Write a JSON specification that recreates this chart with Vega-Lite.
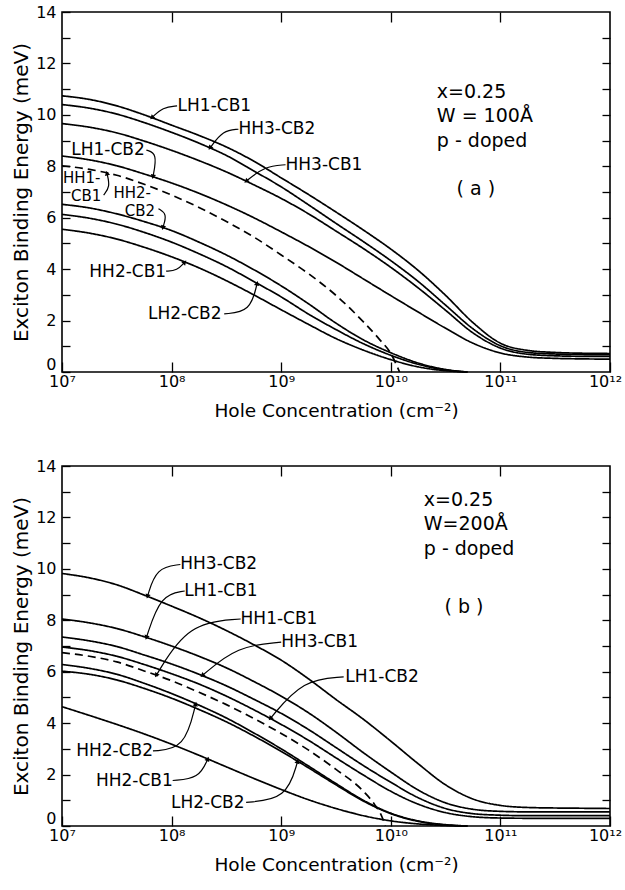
{
"$schema":"https://vega.github.io/schema/vega-lite/v6.json",
"padding":{"left":10,"top":3,"right":0,"bottom":0},
"config":{"view":{"stroke":"black","strokeWidth":1.6},"font":"DejaVu Sans","text":{"color":"black"},"axis":{"grid":false,"domain":false,"tickColor":"black","labelColor":"black","titleColor":"black","tickWidth":1.3,"labelFlush":false}},
"spacing":36,
"datasets":{
"curves":[
{"panel":"a","curve":"LH1-CB1","n":1e7,"e":10.74},{"panel":"a","curve":"LH1-CB1","n":1.778e7,"e":10.6},{"panel":"a","curve":"LH1-CB1","n":3.162e7,"e":10.35},{"panel":"a","curve":"LH1-CB1","n":5.623e7,"e":10.0},{"panel":"a","curve":"LH1-CB1","n":1e8,"e":9.6},{"panel":"a","curve":"LH1-CB1","n":1.778e8,"e":9.2},{"panel":"a","curve":"LH1-CB1","n":3.162e8,"e":8.75},{"panel":"a","curve":"LH1-CB1","n":5.623e8,"e":8.2},{"panel":"a","curve":"LH1-CB1","n":1e9,"e":7.55},{"panel":"a","curve":"LH1-CB1","n":1.778e9,"e":6.9},{"panel":"a","curve":"LH1-CB1","n":3.162e9,"e":6.22},{"panel":"a","curve":"LH1-CB1","n":5.623e9,"e":5.52},{"panel":"a","curve":"LH1-CB1","n":1e10,"e":4.78},{"panel":"a","curve":"LH1-CB1","n":1.778e10,"e":3.95},{"panel":"a","curve":"LH1-CB1","n":3.162e10,"e":2.98},{"panel":"a","curve":"LH1-CB1","n":5.623e10,"e":1.92},{"panel":"a","curve":"LH1-CB1","n":1e11,"e":1.12},{"panel":"a","curve":"LH1-CB1","n":1.778e11,"e":0.84},{"panel":"a","curve":"LH1-CB1","n":3.162e11,"e":0.76},{"panel":"a","curve":"LH1-CB1","n":5.623e11,"e":0.73},{"panel":"a","curve":"LH1-CB1","n":1e12,"e":0.72},
{"panel":"a","curve":"HH3-CB2","n":1e7,"e":10.4},{"panel":"a","curve":"HH3-CB2","n":1.778e7,"e":10.26},{"panel":"a","curve":"HH3-CB2","n":3.162e7,"e":10.03},{"panel":"a","curve":"HH3-CB2","n":5.623e7,"e":9.7},{"panel":"a","curve":"HH3-CB2","n":1e8,"e":9.32},{"panel":"a","curve":"HH3-CB2","n":1.778e8,"e":8.9},{"panel":"a","curve":"HH3-CB2","n":3.162e8,"e":8.42},{"panel":"a","curve":"HH3-CB2","n":5.623e8,"e":7.82},{"panel":"a","curve":"HH3-CB2","n":1e9,"e":7.2},{"panel":"a","curve":"HH3-CB2","n":1.778e9,"e":6.5},{"panel":"a","curve":"HH3-CB2","n":3.162e9,"e":5.78},{"panel":"a","curve":"HH3-CB2","n":5.623e9,"e":5.07},{"panel":"a","curve":"HH3-CB2","n":1e10,"e":4.33},{"panel":"a","curve":"HH3-CB2","n":1.778e10,"e":3.52},{"panel":"a","curve":"HH3-CB2","n":3.162e10,"e":2.6},{"panel":"a","curve":"HH3-CB2","n":5.623e10,"e":1.68},{"panel":"a","curve":"HH3-CB2","n":1e11,"e":1.02},{"panel":"a","curve":"HH3-CB2","n":1.778e11,"e":0.76},{"panel":"a","curve":"HH3-CB2","n":3.162e11,"e":0.7},{"panel":"a","curve":"HH3-CB2","n":5.623e11,"e":0.68},{"panel":"a","curve":"HH3-CB2","n":1e12,"e":0.67},
{"panel":"a","curve":"HH3-CB1","n":1e7,"e":9.66},{"panel":"a","curve":"HH3-CB1","n":1.778e7,"e":9.52},{"panel":"a","curve":"HH3-CB1","n":3.162e7,"e":9.3},{"panel":"a","curve":"HH3-CB1","n":5.623e7,"e":8.98},{"panel":"a","curve":"HH3-CB1","n":1e8,"e":8.62},{"panel":"a","curve":"HH3-CB1","n":1.778e8,"e":8.22},{"panel":"a","curve":"HH3-CB1","n":3.162e8,"e":7.78},{"panel":"a","curve":"HH3-CB1","n":5.623e8,"e":7.28},{"panel":"a","curve":"HH3-CB1","n":1e9,"e":6.75},{"panel":"a","curve":"HH3-CB1","n":1.778e9,"e":6.15},{"panel":"a","curve":"HH3-CB1","n":3.162e9,"e":5.48},{"panel":"a","curve":"HH3-CB1","n":5.623e9,"e":4.8},{"panel":"a","curve":"HH3-CB1","n":1e10,"e":4.07},{"panel":"a","curve":"HH3-CB1","n":1.778e10,"e":3.27},{"panel":"a","curve":"HH3-CB1","n":3.162e10,"e":2.4},{"panel":"a","curve":"HH3-CB1","n":5.623e10,"e":1.52},{"panel":"a","curve":"HH3-CB1","n":1e11,"e":0.93},{"panel":"a","curve":"HH3-CB1","n":1.778e11,"e":0.69},{"panel":"a","curve":"HH3-CB1","n":3.162e11,"e":0.63},{"panel":"a","curve":"HH3-CB1","n":5.623e11,"e":0.61},{"panel":"a","curve":"HH3-CB1","n":1e12,"e":0.61},
{"panel":"a","curve":"LH1-CB2","n":1e7,"e":8.4},{"panel":"a","curve":"LH1-CB2","n":1.778e7,"e":8.25},{"panel":"a","curve":"LH1-CB2","n":3.162e7,"e":8.02},{"panel":"a","curve":"LH1-CB2","n":5.623e7,"e":7.7},{"panel":"a","curve":"LH1-CB2","n":1e8,"e":7.35},{"panel":"a","curve":"LH1-CB2","n":1.778e8,"e":6.95},{"panel":"a","curve":"LH1-CB2","n":3.162e8,"e":6.5},{"panel":"a","curve":"LH1-CB2","n":5.623e8,"e":6.0},{"panel":"a","curve":"LH1-CB2","n":1e9,"e":5.45},{"panel":"a","curve":"LH1-CB2","n":1.778e9,"e":4.88},{"panel":"a","curve":"LH1-CB2","n":3.162e9,"e":4.27},{"panel":"a","curve":"LH1-CB2","n":5.623e9,"e":3.62},{"panel":"a","curve":"LH1-CB2","n":1e10,"e":2.97},{"panel":"a","curve":"LH1-CB2","n":1.778e10,"e":2.33},{"panel":"a","curve":"LH1-CB2","n":3.162e10,"e":1.7},{"panel":"a","curve":"LH1-CB2","n":5.623e10,"e":1.12},{"panel":"a","curve":"LH1-CB2","n":1e11,"e":0.74},{"panel":"a","curve":"LH1-CB2","n":1.778e11,"e":0.58},{"panel":"a","curve":"LH1-CB2","n":3.162e11,"e":0.53},{"panel":"a","curve":"LH1-CB2","n":5.623e11,"e":0.51},{"panel":"a","curve":"LH1-CB2","n":1e12,"e":0.5},
{"panel":"a","curve":"HH1-CB1","n":1e7,"e":8.02},{"panel":"a","curve":"HH1-CB1","n":1.778e7,"e":7.88},{"panel":"a","curve":"HH1-CB1","n":3.162e7,"e":7.65},{"panel":"a","curve":"HH1-CB1","n":5.623e7,"e":7.3},{"panel":"a","curve":"HH1-CB1","n":1e8,"e":6.88},{"panel":"a","curve":"HH1-CB1","n":1.778e8,"e":6.4},{"panel":"a","curve":"HH1-CB1","n":3.162e8,"e":5.85},{"panel":"a","curve":"HH1-CB1","n":5.623e8,"e":5.25},{"panel":"a","curve":"HH1-CB1","n":1e9,"e":4.55},{"panel":"a","curve":"HH1-CB1","n":1.778e9,"e":3.82},{"panel":"a","curve":"HH1-CB1","n":3.162e9,"e":2.98},{"panel":"a","curve":"HH1-CB1","n":5.623e9,"e":1.95},{"panel":"a","curve":"HH1-CB1","n":7.943e9,"e":1.25},{"panel":"a","curve":"HH1-CB1","n":1e10,"e":0.72},{"panel":"a","curve":"HH1-CB1","n":1.202e10,"e":0},
{"panel":"a","curve":"HH2-CB2","n":1e7,"e":6.52},{"panel":"a","curve":"HH2-CB2","n":1.778e7,"e":6.38},{"panel":"a","curve":"HH2-CB2","n":3.162e7,"e":6.15},{"panel":"a","curve":"HH2-CB2","n":5.623e7,"e":5.85},{"panel":"a","curve":"HH2-CB2","n":1e8,"e":5.5},{"panel":"a","curve":"HH2-CB2","n":1.778e8,"e":5.05},{"panel":"a","curve":"HH2-CB2","n":3.162e8,"e":4.55},{"panel":"a","curve":"HH2-CB2","n":5.623e8,"e":3.98},{"panel":"a","curve":"HH2-CB2","n":1e9,"e":3.35},{"panel":"a","curve":"HH2-CB2","n":1.778e9,"e":2.65},{"panel":"a","curve":"HH2-CB2","n":3.162e9,"e":1.9},{"panel":"a","curve":"HH2-CB2","n":5.623e9,"e":1.25},{"panel":"a","curve":"HH2-CB2","n":1e10,"e":0.75},{"panel":"a","curve":"HH2-CB2","n":1.778e10,"e":0.35},{"panel":"a","curve":"HH2-CB2","n":3.162e10,"e":0.1},{"panel":"a","curve":"HH2-CB2","n":3.981e10,"e":0.04},{"panel":"a","curve":"HH2-CB2","n":5.012e10,"e":0},
{"panel":"a","curve":"LH2-CB2","n":1e7,"e":6.13},{"panel":"a","curve":"LH2-CB2","n":1.778e7,"e":5.98},{"panel":"a","curve":"LH2-CB2","n":3.162e7,"e":5.75},{"panel":"a","curve":"LH2-CB2","n":5.623e7,"e":5.43},{"panel":"a","curve":"LH2-CB2","n":1e8,"e":5.05},{"panel":"a","curve":"LH2-CB2","n":1.778e8,"e":4.6},{"panel":"a","curve":"LH2-CB2","n":3.162e8,"e":4.1},{"panel":"a","curve":"LH2-CB2","n":5.623e8,"e":3.52},{"panel":"a","curve":"LH2-CB2","n":1e9,"e":2.92},{"panel":"a","curve":"LH2-CB2","n":1.778e9,"e":2.25},{"panel":"a","curve":"LH2-CB2","n":3.162e9,"e":1.65},{"panel":"a","curve":"LH2-CB2","n":5.623e9,"e":1.1},{"panel":"a","curve":"LH2-CB2","n":1e10,"e":0.65},{"panel":"a","curve":"LH2-CB2","n":1.778e10,"e":0.3},{"panel":"a","curve":"LH2-CB2","n":3.162e10,"e":0.08},{"panel":"a","curve":"LH2-CB2","n":3.981e10,"e":0.03},{"panel":"a","curve":"LH2-CB2","n":5.012e10,"e":0},
{"panel":"a","curve":"HH2-CB1","n":1e7,"e":5.55},{"panel":"a","curve":"HH2-CB1","n":1.778e7,"e":5.4},{"panel":"a","curve":"HH2-CB1","n":3.162e7,"e":5.17},{"panel":"a","curve":"HH2-CB1","n":5.623e7,"e":4.85},{"panel":"a","curve":"HH2-CB1","n":1e8,"e":4.48},{"panel":"a","curve":"HH2-CB1","n":1.778e8,"e":4.05},{"panel":"a","curve":"HH2-CB1","n":3.162e8,"e":3.55},{"panel":"a","curve":"HH2-CB1","n":5.623e8,"e":3.0},{"panel":"a","curve":"HH2-CB1","n":1e9,"e":2.42},{"panel":"a","curve":"HH2-CB1","n":1.778e9,"e":1.85},{"panel":"a","curve":"HH2-CB1","n":3.162e9,"e":1.3},{"panel":"a","curve":"HH2-CB1","n":5.623e9,"e":0.85},{"panel":"a","curve":"HH2-CB1","n":1e10,"e":0.48},{"panel":"a","curve":"HH2-CB1","n":1.778e10,"e":0.2},{"panel":"a","curve":"HH2-CB1","n":3.162e10,"e":0.05},{"panel":"a","curve":"HH2-CB1","n":3.981e10,"e":0.02},{"panel":"a","curve":"HH2-CB1","n":5.012e10,"e":0},
{"panel":"b","curve":"HH3-CB2","n":1e7,"e":9.82},{"panel":"b","curve":"HH3-CB2","n":1.778e7,"e":9.65},{"panel":"b","curve":"HH3-CB2","n":3.162e7,"e":9.38},{"panel":"b","curve":"HH3-CB2","n":5.623e7,"e":8.98},{"panel":"b","curve":"HH3-CB2","n":1e8,"e":8.55},{"panel":"b","curve":"HH3-CB2","n":1.778e8,"e":8.1},{"panel":"b","curve":"HH3-CB2","n":3.162e8,"e":7.6},{"panel":"b","curve":"HH3-CB2","n":5.623e8,"e":7.05},{"panel":"b","curve":"HH3-CB2","n":1e9,"e":6.45},{"panel":"b","curve":"HH3-CB2","n":1.778e9,"e":5.72},{"panel":"b","curve":"HH3-CB2","n":3.162e9,"e":4.92},{"panel":"b","curve":"HH3-CB2","n":5.623e9,"e":4.15},{"panel":"b","curve":"HH3-CB2","n":1e10,"e":3.3},{"panel":"b","curve":"HH3-CB2","n":1.778e10,"e":2.42},{"panel":"b","curve":"HH3-CB2","n":3.162e10,"e":1.6},{"panel":"b","curve":"HH3-CB2","n":5.623e10,"e":1.05},{"panel":"b","curve":"HH3-CB2","n":1e11,"e":0.8},{"panel":"b","curve":"HH3-CB2","n":1.778e11,"e":0.72},{"panel":"b","curve":"HH3-CB2","n":3.162e11,"e":0.7},{"panel":"b","curve":"HH3-CB2","n":5.623e11,"e":0.69},{"panel":"b","curve":"HH3-CB2","n":1e12,"e":0.68},
{"panel":"b","curve":"LH1-CB1","n":1e7,"e":8.05},{"panel":"b","curve":"LH1-CB1","n":1.778e7,"e":7.9},{"panel":"b","curve":"LH1-CB1","n":3.162e7,"e":7.68},{"panel":"b","curve":"LH1-CB1","n":5.623e7,"e":7.36},{"panel":"b","curve":"LH1-CB1","n":1e8,"e":7.0},{"panel":"b","curve":"LH1-CB1","n":1.778e8,"e":6.6},{"panel":"b","curve":"LH1-CB1","n":3.162e8,"e":6.15},{"panel":"b","curve":"LH1-CB1","n":5.623e8,"e":5.62},{"panel":"b","curve":"LH1-CB1","n":1e9,"e":5.05},{"panel":"b","curve":"LH1-CB1","n":1.778e9,"e":4.4},{"panel":"b","curve":"LH1-CB1","n":3.162e9,"e":3.65},{"panel":"b","curve":"LH1-CB1","n":5.623e9,"e":2.85},{"panel":"b","curve":"LH1-CB1","n":1e10,"e":2.1},{"panel":"b","curve":"LH1-CB1","n":1.778e10,"e":1.4},{"panel":"b","curve":"LH1-CB1","n":3.162e10,"e":0.9},{"panel":"b","curve":"LH1-CB1","n":5.623e10,"e":0.65},{"panel":"b","curve":"LH1-CB1","n":1e11,"e":0.57},{"panel":"b","curve":"LH1-CB1","n":1.778e11,"e":0.55},{"panel":"b","curve":"LH1-CB1","n":3.162e11,"e":0.55},{"panel":"b","curve":"LH1-CB1","n":5.623e11,"e":0.55},{"panel":"b","curve":"LH1-CB1","n":1e12,"e":0.55},
{"panel":"b","curve":"HH3-CB1","n":1e7,"e":7.35},{"panel":"b","curve":"HH3-CB1","n":1.778e7,"e":7.2},{"panel":"b","curve":"HH3-CB1","n":3.162e7,"e":6.98},{"panel":"b","curve":"HH3-CB1","n":5.623e7,"e":6.65},{"panel":"b","curve":"HH3-CB1","n":1e8,"e":6.3},{"panel":"b","curve":"HH3-CB1","n":1.778e8,"e":5.9},{"panel":"b","curve":"HH3-CB1","n":3.162e8,"e":5.45},{"panel":"b","curve":"HH3-CB1","n":5.623e8,"e":4.93},{"panel":"b","curve":"HH3-CB1","n":1e9,"e":4.38},{"panel":"b","curve":"HH3-CB1","n":1.778e9,"e":3.75},{"panel":"b","curve":"HH3-CB1","n":3.162e9,"e":3.05},{"panel":"b","curve":"HH3-CB1","n":5.623e9,"e":2.35},{"panel":"b","curve":"HH3-CB1","n":1e10,"e":1.7},{"panel":"b","curve":"HH3-CB1","n":1.778e10,"e":1.1},{"panel":"b","curve":"HH3-CB1","n":3.162e10,"e":0.68},{"panel":"b","curve":"HH3-CB1","n":5.623e10,"e":0.48},{"panel":"b","curve":"HH3-CB1","n":1e11,"e":0.42},{"panel":"b","curve":"HH3-CB1","n":1.778e11,"e":0.4},{"panel":"b","curve":"HH3-CB1","n":3.162e11,"e":0.4},{"panel":"b","curve":"HH3-CB1","n":5.623e11,"e":0.4},{"panel":"b","curve":"HH3-CB1","n":1e12,"e":0.4},
{"panel":"b","curve":"LH1-CB2","n":1e7,"e":6.96},{"panel":"b","curve":"LH1-CB2","n":1.778e7,"e":6.82},{"panel":"b","curve":"LH1-CB2","n":3.162e7,"e":6.6},{"panel":"b","curve":"LH1-CB2","n":5.623e7,"e":6.28},{"panel":"b","curve":"LH1-CB2","n":1e8,"e":5.92},{"panel":"b","curve":"LH1-CB2","n":1.778e8,"e":5.52},{"panel":"b","curve":"LH1-CB2","n":3.162e8,"e":5.05},{"panel":"b","curve":"LH1-CB2","n":5.623e8,"e":4.52},{"panel":"b","curve":"LH1-CB2","n":1e9,"e":3.95},{"panel":"b","curve":"LH1-CB2","n":1.778e9,"e":3.33},{"panel":"b","curve":"LH1-CB2","n":3.162e9,"e":2.65},{"panel":"b","curve":"LH1-CB2","n":5.623e9,"e":1.98},{"panel":"b","curve":"LH1-CB2","n":1e10,"e":1.35},{"panel":"b","curve":"LH1-CB2","n":1.778e10,"e":0.85},{"panel":"b","curve":"LH1-CB2","n":3.162e10,"e":0.52},{"panel":"b","curve":"LH1-CB2","n":5.623e10,"e":0.36},{"panel":"b","curve":"LH1-CB2","n":1e11,"e":0.31},{"panel":"b","curve":"LH1-CB2","n":1.778e11,"e":0.3},{"panel":"b","curve":"LH1-CB2","n":3.162e11,"e":0.3},{"panel":"b","curve":"LH1-CB2","n":5.623e11,"e":0.3},{"panel":"b","curve":"LH1-CB2","n":1e12,"e":0.3},
{"panel":"b","curve":"HH1-CB1","n":1e7,"e":6.74},{"panel":"b","curve":"HH1-CB1","n":1.778e7,"e":6.6},{"panel":"b","curve":"HH1-CB1","n":3.162e7,"e":6.38},{"panel":"b","curve":"HH1-CB1","n":5.623e7,"e":6.03},{"panel":"b","curve":"HH1-CB1","n":1e8,"e":5.65},{"panel":"b","curve":"HH1-CB1","n":1.778e8,"e":5.2},{"panel":"b","curve":"HH1-CB1","n":3.162e8,"e":4.72},{"panel":"b","curve":"HH1-CB1","n":5.623e8,"e":4.18},{"panel":"b","curve":"HH1-CB1","n":1e9,"e":3.6},{"panel":"b","curve":"HH1-CB1","n":1.778e9,"e":2.95},{"panel":"b","curve":"HH1-CB1","n":3.162e9,"e":2.2},{"panel":"b","curve":"HH1-CB1","n":5.623e9,"e":1.35},{"panel":"b","curve":"HH1-CB1","n":7.079e9,"e":0.85},{"panel":"b","curve":"HH1-CB1","n":8.318e9,"e":0.35},{"panel":"b","curve":"HH1-CB1","n":8.913e9,"e":0},
{"panel":"b","curve":"HH2-CB2","n":1e7,"e":6.28},{"panel":"b","curve":"HH2-CB2","n":1.778e7,"e":6.13},{"panel":"b","curve":"HH2-CB2","n":3.162e7,"e":5.9},{"panel":"b","curve":"HH2-CB2","n":5.623e7,"e":5.55},{"panel":"b","curve":"HH2-CB2","n":1e8,"e":5.15},{"panel":"b","curve":"HH2-CB2","n":1.778e8,"e":4.7},{"panel":"b","curve":"HH2-CB2","n":3.162e8,"e":4.2},{"panel":"b","curve":"HH2-CB2","n":5.623e8,"e":3.62},{"panel":"b","curve":"HH2-CB2","n":1e9,"e":3.0},{"panel":"b","curve":"HH2-CB2","n":1.778e9,"e":2.33},{"panel":"b","curve":"HH2-CB2","n":3.162e9,"e":1.65},{"panel":"b","curve":"HH2-CB2","n":5.623e9,"e":1.0},{"panel":"b","curve":"HH2-CB2","n":1e10,"e":0.5},{"panel":"b","curve":"HH2-CB2","n":1.778e10,"e":0.2},{"panel":"b","curve":"HH2-CB2","n":3.162e10,"e":0.05},{"panel":"b","curve":"HH2-CB2","n":5.012e10,"e":0},
{"panel":"b","curve":"LH2-CB2","n":1e7,"e":6.02},{"panel":"b","curve":"LH2-CB2","n":1.778e7,"e":5.9},{"panel":"b","curve":"LH2-CB2","n":3.162e7,"e":5.68},{"panel":"b","curve":"LH2-CB2","n":5.623e7,"e":5.35},{"panel":"b","curve":"LH2-CB2","n":1e8,"e":4.97},{"panel":"b","curve":"LH2-CB2","n":1.778e8,"e":4.53},{"panel":"b","curve":"LH2-CB2","n":3.162e8,"e":4.05},{"panel":"b","curve":"LH2-CB2","n":5.623e8,"e":3.5},{"panel":"b","curve":"LH2-CB2","n":1e9,"e":2.9},{"panel":"b","curve":"LH2-CB2","n":1.778e9,"e":2.26},{"panel":"b","curve":"LH2-CB2","n":3.162e9,"e":1.6},{"panel":"b","curve":"LH2-CB2","n":5.623e9,"e":0.97},{"panel":"b","curve":"LH2-CB2","n":1e10,"e":0.48},{"panel":"b","curve":"LH2-CB2","n":1.778e10,"e":0.18},{"panel":"b","curve":"LH2-CB2","n":3.162e10,"e":0.04},{"panel":"b","curve":"LH2-CB2","n":5.012e10,"e":0},
{"panel":"b","curve":"HH2-CB1","n":1e7,"e":4.64},{"panel":"b","curve":"HH2-CB1","n":1.778e7,"e":4.3},{"panel":"b","curve":"HH2-CB1","n":3.162e7,"e":3.95},{"panel":"b","curve":"HH2-CB1","n":5.623e7,"e":3.58},{"panel":"b","curve":"HH2-CB1","n":1e8,"e":3.18},{"panel":"b","curve":"HH2-CB1","n":1.778e8,"e":2.75},{"panel":"b","curve":"HH2-CB1","n":3.162e8,"e":2.3},{"panel":"b","curve":"HH2-CB1","n":5.623e8,"e":1.85},{"panel":"b","curve":"HH2-CB1","n":1e9,"e":1.42},{"panel":"b","curve":"HH2-CB1","n":1.778e9,"e":1.02},{"panel":"b","curve":"HH2-CB1","n":3.162e9,"e":0.68},{"panel":"b","curve":"HH2-CB1","n":5.623e9,"e":0.4},{"panel":"b","curve":"HH2-CB1","n":1e10,"e":0.2},{"panel":"b","curve":"HH2-CB1","n":1.778e10,"e":0.08},{"panel":"b","curve":"HH2-CB1","n":3.162e10,"e":0.02},{"panel":"b","curve":"HH2-CB1","n":5.012e10,"e":0}
],
"leaders":[
{"panel":"a","curve":"LH1-CB1","k":0,"n":1.122e8,"e":10.35},{"panel":"a","curve":"LH1-CB1","k":1,"n":8.318e7,"e":10.3},{"panel":"a","curve":"LH1-CB1","k":2,"n":6.607e7,"e":9.89},
{"panel":"a","curve":"HH3-CB2","k":0,"n":4.07e8,"e":9.44},{"panel":"a","curve":"HH3-CB2","k":1,"n":2.951e8,"e":9.4},{"panel":"a","curve":"HH3-CB2","k":2,"n":2.239e8,"e":8.71},
{"panel":"a","curve":"HH3-CB1","k":0,"n":1.096e9,"e":8.06},{"panel":"a","curve":"HH3-CB1","k":1,"n":7.079e8,"e":8.0},{"panel":"a","curve":"HH3-CB1","k":2,"n":4.786e8,"e":7.42},
{"panel":"a","curve":"LH1-CB2","k":0,"n":5.888e7,"e":8.63},{"panel":"a","curve":"LH1-CB2","k":1,"n":7.413e7,"e":8.5},{"panel":"a","curve":"LH1-CB2","k":2,"n":6.761e7,"e":7.59},
{"panel":"a","curve":"HH1-CB1","k":0,"n":2.399e7,"e":6.88},{"panel":"a","curve":"HH1-CB1","k":1,"n":2.754e7,"e":7.2},{"panel":"a","curve":"HH1-CB1","k":2,"n":2.57e7,"e":7.73},
{"panel":"a","curve":"HH2-CB2","k":0,"n":7.586e7,"e":6.35},{"panel":"a","curve":"HH2-CB2","k":1,"n":9.12e7,"e":6.15},{"panel":"a","curve":"HH2-CB2","k":2,"n":8.318e7,"e":5.61},
{"panel":"a","curve":"HH2-CB1","k":0,"n":8.913e7,"e":3.92},{"panel":"a","curve":"HH2-CB1","k":1,"n":1.122e8,"e":3.95},{"panel":"a","curve":"HH2-CB1","k":2,"n":1.318e8,"e":4.27},
{"panel":"a","curve":"LH2-CB2","k":0,"n":3.02e8,"e":2.26},{"panel":"a","curve":"LH2-CB2","k":1,"n":5.248e8,"e":2.35},{"panel":"a","curve":"LH2-CB2","k":2,"n":6.026e8,"e":3.45},
{"panel":"b","curve":"HH3-CB2","k":0,"n":1.202e8,"e":10.17},{"panel":"b","curve":"HH3-CB2","k":1,"n":7.244e7,"e":10.05},{"panel":"b","curve":"HH3-CB2","k":2,"n":6.026e7,"e":8.93},
{"panel":"b","curve":"LH1-CB1","k":0,"n":1.318e8,"e":9.14},{"panel":"b","curve":"LH1-CB1","k":1,"n":7.943e7,"e":9.0},{"panel":"b","curve":"LH1-CB1","k":2,"n":5.888e7,"e":7.33},
{"panel":"b","curve":"HH1-CB1","k":0,"n":4.266e8,"e":8.05},{"panel":"b","curve":"HH1-CB1","k":1,"n":1.413e8,"e":7.9},{"panel":"b","curve":"HH1-CB1","k":2,"n":7.244e7,"e":5.86},
{"panel":"b","curve":"HH3-CB1","k":0,"n":1e9,"e":7.15},{"panel":"b","curve":"HH3-CB1","k":1,"n":3.981e8,"e":7.0},{"panel":"b","curve":"HH3-CB1","k":2,"n":1.905e8,"e":5.85},
{"panel":"b","curve":"LH1-CB2","k":0,"n":3.715e9,"e":5.8},{"panel":"b","curve":"LH1-CB2","k":1,"n":1.585e9,"e":5.7},{"panel":"b","curve":"LH1-CB2","k":2,"n":7.943e8,"e":4.18},
{"panel":"b","curve":"HH2-CB2","k":0,"n":6.761e7,"e":2.92},{"panel":"b","curve":"HH2-CB2","k":1,"n":1.318e8,"e":3.0},{"panel":"b","curve":"HH2-CB2","k":2,"n":1.66e8,"e":4.75},
{"panel":"b","curve":"HH2-CB1","k":0,"n":1.023e8,"e":1.77},{"panel":"b","curve":"HH2-CB1","k":1,"n":1.778e8,"e":1.85},{"panel":"b","curve":"HH2-CB1","k":2,"n":2.138e8,"e":2.61},
{"panel":"b","curve":"LH2-CB2","k":0,"n":4.786e8,"e":0.92},{"panel":"b","curve":"LH2-CB2","k":1,"n":1.122e9,"e":1.05},{"panel":"b","curve":"LH2-CB2","k":2,"n":1.413e9,"e":2.52}
],
"labels":[
{"panel":"a","text":"LH1-CB1","n":2.455e8,"e":10.35},
{"panel":"a","text":"HH3-CB2","n":9.12e8,"e":9.44},
{"panel":"a","text":"HH3-CB1","n":2.455e9,"e":8.05},
{"panel":"a","text":"LH1-CB2","n":2.63e7,"e":8.63},
{"panel":"a","text":"HH2-CB1","n":3.981e7,"e":3.87},
{"panel":"a","text":"LH2-CB2","n":1.318e8,"e":2.24},
{"panel":"b","text":"HH3-CB2","n":2.692e8,"e":10.17},
{"panel":"b","text":"LH1-CB1","n":2.818e8,"e":9.14},
{"panel":"b","text":"HH1-CB1","n":9.55e8,"e":8.05},
{"panel":"b","text":"HH3-CB1","n":2.239e9,"e":7.15},
{"panel":"b","text":"LH1-CB2","n":8.318e9,"e":5.8},
{"panel":"b","text":"HH2-CB2","n":3.02e7,"e":2.9},
{"panel":"b","text":"HH2-CB1","n":4.571e7,"e":1.75},
{"panel":"b","text":"LH2-CB2","n":2.138e8,"e":0.9}
],
"small":[
{"panel":"a","text":"HH1-","n":1.514e7,"e":7.56},
{"panel":"a","text":"CB1","n":1.66e7,"e":6.84},
{"panel":"a","text":"HH2-","n":4.365e7,"e":6.96},
{"panel":"a","text":"CB2","n":5.129e7,"e":6.28}
],
"info":[
{"panel":"a","text":"x=0.25","n":2.63e10,"e":10.87},
{"panel":"a","text":"W = 100Å","n":2.63e10,"e":9.96},
{"panel":"a","text":"p - doped","n":2.63e10,"e":8.99},
{"panel":"a","text":"( a )","n":3.98e10,"e":7.1},
{"panel":"b","text":"x=0.25","n":2.0e10,"e":12.69},
{"panel":"b","text":"W=200Å","n":2.0e10,"e":11.73},
{"panel":"b","text":"p - doped","n":2.0e10,"e":10.76},
{"panel":"b","text":"( b )","n":3.09e10,"e":8.5}
]
},
"vconcat":[
{"width":548,"height":360,
"resolve":{"axis":{"x":"independent","y":"independent"}},
"layer":[
{"data":{"name":"curves"},"transform":[{"filter":"datum.panel == 'a'"}],
"mark":{"type":"line","interpolate":"monotone","color":"black","strokeWidth":1.7},
"encoding":{
"x":{"field":"n","type":"quantitative","scale":{"type":"log","domain":[1e7,1e12],"nice":false},"axis":{"orient":"bottom","values":[1e7,1e8,1e9,1e10,1e11,1e12],"labelExpr":"datum.value < 3e7 ? '10⁷' : datum.value < 3e8 ? '10⁸' : datum.value < 3e9 ? '10⁹' : datum.value < 3e10 ? '10¹⁰' : datum.value < 3e11 ? '10¹¹' : '10¹²'","tickSize":-10,"labelPadding":11,"labelFontSize":16,"labelOffset":{"condition":{"test":"datum.value > 5e11","value":-5},"value":0},"title":"Hole Concentration (cm⁻²)","titleFontSize":18.5,"titleFontWeight":"normal","titlePadding":12}},
"y":{"field":"e","type":"quantitative","scale":{"domain":[0,14],"nice":false},"axis":{"orient":"left","values":[0,1,2,3,4,5,6,7,8,9,10,11,12,13,14],"labelExpr":"datum.value % 2 == 0 ? datum.label : ''","labelBaseline":{"condition":{"test":"datum.value == 0","value":"bottom"},"value":"middle"},"tickSize":-8,"labelPadding":14,"labelFontSize":16,"title":"Exciton Binding Energy (meV)","titleFontSize":20,"titleFontWeight":"normal","titlePadding":4}},
"detail":{"field":"curve"},
"strokeDash":{"field":"curve","type":"nominal","legend":null,"scale":{"domain":["HH1-CB1","LH1-CB1","HH3-CB2","HH3-CB1","LH1-CB2","HH2-CB2","LH2-CB2","HH2-CB1"],"range":[[8,5],[1,0],[1,0],[1,0],[1,0],[1,0],[1,0],[1,0]]}}}},
{"data":{"name":"leaders"},"transform":[{"filter":"datum.panel == 'a'"}],
"mark":{"type":"line","interpolate":"basis","color":"black","strokeWidth":1.2},
"encoding":{
"x":{"field":"n","type":"quantitative","scale":{"type":"log","domain":[1e7,1e12],"nice":false},"axis":{"orient":"top","values":[1e8,1e9,1e10,1e11],"labels":false,"tickSize":-10,"title":null}},
"y":{"field":"e","type":"quantitative","scale":{"domain":[0,14],"nice":false},"axis":{"orient":"right","values":[1,2,3,4,5,6,7,8,9,10,11,12,13],"labels":false,"tickSize":-8,"title":null}},
"detail":{"field":"curve"},"order":{"field":"k"}}},
{"data":{"name":"leaders"},"transform":[{"filter":"datum.panel == 'a'"},{"window":[{"op":"lag","field":"n","as":"pn"},{"op":"lag","field":"e","as":"pe"}],"groupby":["curve"],"sort":[{"field":"k"}]},{"filter":"datum.k == 2"},{"calculate":"atan2((log(datum.n)-log(datum.pn))/LN10*109.6, (datum.e-datum.pe)*25.7)*180/PI","as":"ang"}],
"mark":{"type":"point","shape":"triangle-up","filled":true,"color":"black","size":28,"opacity":1},
"encoding":{"x":{"field":"n","type":"quantitative","axis":null},"y":{"field":"e","type":"quantitative","axis":null},"angle":{"field":"ang","type":"quantitative","scale":null}}},
{"data":{"name":"labels"},"transform":[{"filter":"datum.panel == 'a'"}],
"mark":{"type":"text","fontSize":17,"baseline":"middle","align":"center"},
"encoding":{"x":{"field":"n","type":"quantitative","axis":null},"y":{"field":"e","type":"quantitative","axis":null},"text":{"field":"text"}}},
{"data":{"name":"small"},"transform":[{"filter":"datum.panel == 'a'"}],
"mark":{"type":"text","fontSize":15,"baseline":"middle","align":"center"},
"encoding":{"x":{"field":"n","type":"quantitative","axis":null},"y":{"field":"e","type":"quantitative","axis":null},"text":{"field":"text"}}},
{"data":{"name":"info"},"transform":[{"filter":"datum.panel == 'a'"}],
"mark":{"type":"text","fontSize":19,"baseline":"middle","align":"left"},
"encoding":{"x":{"field":"n","type":"quantitative","axis":null},"y":{"field":"e","type":"quantitative","axis":null},"text":{"field":"text"}}}
]},
{"width":548,"height":360,
"resolve":{"axis":{"x":"independent","y":"independent"}},
"layer":[
{"data":{"name":"curves"},"transform":[{"filter":"datum.panel == 'b'"}],
"mark":{"type":"line","interpolate":"monotone","color":"black","strokeWidth":1.7},
"encoding":{
"x":{"field":"n","type":"quantitative","scale":{"type":"log","domain":[1e7,1e12],"nice":false},"axis":{"orient":"bottom","values":[1e7,1e8,1e9,1e10,1e11,1e12],"labelExpr":"datum.value < 3e7 ? '10⁷' : datum.value < 3e8 ? '10⁸' : datum.value < 3e9 ? '10⁹' : datum.value < 3e10 ? '10¹⁰' : datum.value < 3e11 ? '10¹¹' : '10¹²'","tickSize":-10,"labelPadding":11,"labelFontSize":16,"labelOffset":{"condition":{"test":"datum.value > 5e11","value":-5},"value":0},"title":"Hole Concentration (cm⁻²)","titleFontSize":18.5,"titleFontWeight":"normal","titlePadding":12}},
"y":{"field":"e","type":"quantitative","scale":{"domain":[0,14],"nice":false},"axis":{"orient":"left","values":[0,1,2,3,4,5,6,7,8,9,10,11,12,13,14],"labelExpr":"datum.value % 2 == 0 ? datum.label : ''","labelBaseline":{"condition":{"test":"datum.value == 0","value":"bottom"},"value":"middle"},"tickSize":-8,"labelPadding":14,"labelFontSize":16,"title":"Exciton Binding Energy (meV)","titleFontSize":20,"titleFontWeight":"normal","titlePadding":4}},
"detail":{"field":"curve"},
"strokeDash":{"field":"curve","type":"nominal","legend":null,"scale":{"domain":["HH1-CB1","LH1-CB1","HH3-CB2","HH3-CB1","LH1-CB2","HH2-CB2","LH2-CB2","HH2-CB1"],"range":[[8,5],[1,0],[1,0],[1,0],[1,0],[1,0],[1,0],[1,0]]}}}},
{"data":{"name":"leaders"},"transform":[{"filter":"datum.panel == 'b'"}],
"mark":{"type":"line","interpolate":"basis","color":"black","strokeWidth":1.2},
"encoding":{
"x":{"field":"n","type":"quantitative","scale":{"type":"log","domain":[1e7,1e12],"nice":false},"axis":{"orient":"top","values":[1e8,1e9,1e10,1e11],"labels":false,"tickSize":-10,"title":null}},
"y":{"field":"e","type":"quantitative","scale":{"domain":[0,14],"nice":false},"axis":{"orient":"right","values":[1,2,3,4,5,6,7,8,9,10,11,12,13],"labels":false,"tickSize":-8,"title":null}},
"detail":{"field":"curve"},"order":{"field":"k"}}},
{"data":{"name":"leaders"},"transform":[{"filter":"datum.panel == 'b'"},{"window":[{"op":"lag","field":"n","as":"pn"},{"op":"lag","field":"e","as":"pe"}],"groupby":["curve"],"sort":[{"field":"k"}]},{"filter":"datum.k == 2"},{"calculate":"atan2((log(datum.n)-log(datum.pn))/LN10*109.6, (datum.e-datum.pe)*25.7)*180/PI","as":"ang"}],
"mark":{"type":"point","shape":"triangle-up","filled":true,"color":"black","size":28,"opacity":1},
"encoding":{"x":{"field":"n","type":"quantitative","axis":null},"y":{"field":"e","type":"quantitative","axis":null},"angle":{"field":"ang","type":"quantitative","scale":null}}},
{"data":{"name":"labels"},"transform":[{"filter":"datum.panel == 'b'"}],
"mark":{"type":"text","fontSize":17,"baseline":"middle","align":"center"},
"encoding":{"x":{"field":"n","type":"quantitative","axis":null},"y":{"field":"e","type":"quantitative","axis":null},"text":{"field":"text"}}},
{"data":{"name":"info"},"transform":[{"filter":"datum.panel == 'b'"}],
"mark":{"type":"text","fontSize":19,"baseline":"middle","align":"left"},
"encoding":{"x":{"field":"n","type":"quantitative","axis":null},"y":{"field":"e","type":"quantitative","axis":null},"text":{"field":"text"}}}
]}
]
}
